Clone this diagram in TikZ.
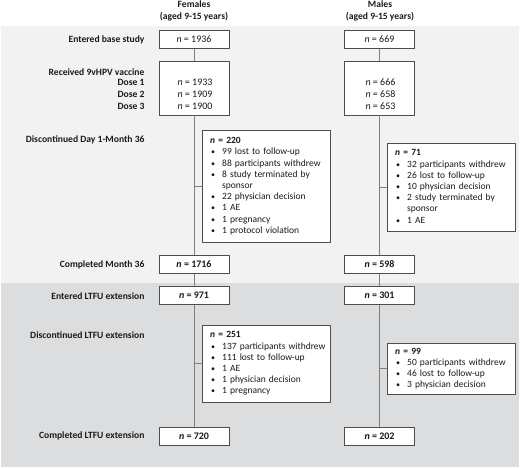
\documentclass[tikz,border=0pt]{standalone}
\usepackage{fontspec}
\setmainfont{Carlito}
\usepackage{array}

\definecolor{bandtop}{HTML}{F2F2F2}
\definecolor{bandlow}{HTML}{DCDDDF}
\definecolor{boxline}{HTML}{4D4D4D}
\definecolor{flowline}{HTML}{7F7F7F}
\definecolor{ink}{HTML}{1A1A1A}

\newcommand{\nn}[1]{\textit{n} = #1}
\newcommand{\bul}{\hspace{1pt}{\fontsize{8}{8}\selectfont\textbullet}}

\begin{document}
\begin{tikzpicture}[x=1pt, y=-1pt,
  every node/.style={font=\fontsize{10}{11.2}\selectfont, text=ink},
  stage/.style={anchor=east, font=\fontsize{9.6}{11}\selectfont\bfseries},
  countbox/.style={draw=boxline, fill=white, minimum width=70pt, minimum height=18pt, inner sep=0pt},
  countbold/.style={countbox, font=\fontsize{10}{11.2}\selectfont\bfseries},
  dropbox/.style={draw=boxline, fill=white, anchor=north west, text width=112pt, align=left, inner xsep=8pt, inner ysep=0pt, font=\fontsize{9.5}{11.2}\selectfont},
  flow/.style={draw=flowline, line width=0.8pt}]
\useasboundingbox (0,0) rectangle (520,469);

% shaded bands: base study and LTFU extension
\fill[bandtop] (1,26) rectangle (519,283);
\fill[bandlow] (1,283) rectangle (519,467);

% column heads
\node[font=\fontsize{9.6}{12}\selectfont\bfseries, align=center] (fhead) at (194,11) {Females\\(aged 9-15 years)};
\node[font=\fontsize{9.6}{12}\selectfont\bfseries, align=center] (mhead) at (380,11) {Males\\(aged 9-15 years)};

% stage labels on the left
\node[stage] (sbase) at (148,40) {Entered base study};
\node[stage] (svac) at (148,72) {Received 9vHPV vaccine};
\node[stage] (sdose1) at (148,82) {Dose 1};
\node[stage] (sdose2) at (148,94) {Dose 2};
\node[stage] (sdose3) at (148,106) {Dose 3};
\node[stage] (sdrop) at (148,140) {Discontinued Day 1-Month 36};
\node[stage] (sm36) at (148,265) {Completed Month 36};
\node[stage] (sltfu) at (148,296) {Entered LTFU extension};
\node[stage] (sdrop2) at (148,335) {Discontinued LTFU extension};
\node[stage] (send) at (148,436) {Completed LTFU extension};

% females
\node[countbox] (fbase) at (194,39.5) {\nn{1936}};
\node[countbox, minimum height=54pt] (fdose) at (194,88) {};
\node (fdose1) at (195,82) {\nn{1933}};
\node (fdose2) at (195,94) {\nn{1909}};
\node (fdose3) at (195,106) {\nn{1900}};
\node[dropbox, minimum height=112pt] (fdrop) at (202,130) {%
  \begin{tabular}{@{}p{12pt}@{}l@{}}
  \multicolumn{2}{@{}l@{}}{\bfseries\nn{220}}\\
  \bul & 99 lost to follow-up\\
  \bul & 88 participants withdrew\\
  \bul & 8 study terminated by\\
       & sponsor\\
  \bul & 22 physician decision\\
  \bul & 1 AE\\
  \bul & 1 pregnancy\\
  \bul & 1 protocol violation
  \end{tabular}};
\node[countbold] (fm36) at (194,264.5) {\nn{1716}};
\node[countbold] (fltfu) at (194,295.5) {\nn{971}};
\node[dropbox, minimum height=77pt] (fdrop2) at (202,325) {%
  \begin{tabular}{@{}p{12pt}@{}l@{}}
  \multicolumn{2}{@{}l@{}}{\bfseries\nn{251}}\\
  \bul & 137 participants withdrew\\
  \bul & 111 lost to follow-up\\
  \bul & 1 AE\\
  \bul & 1 physician decision\\
  \bul & 1 pregnancy
  \end{tabular}};
\node[countbold] (fend) at (194,436) {\nn{720}};

% males
\node[countbox] (mbase) at (379.5,39.5) {\nn{669}};
\node[countbox, minimum height=54pt] (mdose) at (379.5,88) {};
\node (mdose1) at (380.5,82) {\nn{666}};
\node (mdose2) at (380.5,94) {\nn{658}};
\node (mdose3) at (380.5,106) {\nn{653}};
\node[dropbox, minimum height=88pt] (mdrop) at (387,143) {%
  \begin{tabular}{@{}p{12pt}@{}l@{}}
  \multicolumn{2}{@{}l@{}}{\bfseries\nn{71}}\\
  \bul & 32 participants withdrew\\
  \bul & 26 lost to follow-up\\
  \bul & 10 physician decision\\
  \bul & 2 study terminated by\\
       & sponsor\\
  \bul & 1 AE
  \end{tabular}};
\node[countbold] (mm36) at (379.5,264.5) {\nn{598}};
\node[countbold] (mltfu) at (379.5,295.5) {\nn{301}};
\node[dropbox, minimum height=51pt] (mdrop2) at (387,343) {%
  \begin{tabular}{@{}p{12pt}@{}l@{}}
  \multicolumn{2}{@{}l@{}}{\bfseries\nn{99}}\\
  \bul & 50 participants withdrew\\
  \bul & 46 lost to follow-up\\
  \bul & 3 physician decision
  \end{tabular}};
\node[countbold] (mend) at (379.5,436) {\nn{202}};

% flow lines
\foreach \c in {f,m} {
  \draw[flow] (\c base) -- (\c dose);
  \draw[flow] (\c dose) -- (\c m36);
  \draw[flow] (\c m36) -- (\c ltfu);
  \draw[flow] (\c ltfu) -- (\c end);
  \draw[flow] (\c drop.west) -- (\c drop.west -| \c m36.north);
  \draw[flow] (\c drop2.west) -- (\c drop2.west -| \c ltfu.south);
}
\end{tikzpicture}
\end{document}
